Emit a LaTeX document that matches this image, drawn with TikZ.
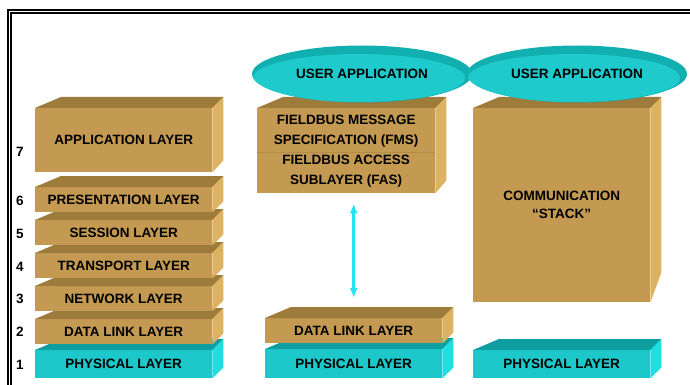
\documentclass[tikz,border=0pt]{standalone}
\usepackage{fontspec}
\setmainfont{Liberation Sans}
\usetikzlibrary{arrows.meta,positioning,calc,shapes.geometric}
\definecolor{TanFront}{HTML}{C49A52}
\definecolor{TanTop}{HTML}{9C7B3B}
\definecolor{TanSide}{HTML}{DDB263}
\definecolor{CyanFront}{HTML}{1CC8CA}
\definecolor{CyanTop}{HTML}{0F9EA0}
\definecolor{CyanSide}{HTML}{22DDDF}
\definecolor{DiscRim}{HTML}{12AFB1}
\definecolor{DiscFace}{HTML}{1FCACC}
\definecolor{ArrowCyan}{HTML}{22E4EC}
\tikzset{
  layer/.style={rectangle,fill=TanFront,anchor=north west,inner sep=0pt,align=center,
                font=\fontsize{13.5}{20}\selectfont\bfseries,
                minimum width=177pt,minimum height=25pt},
  phys/.style={layer,fill=CyanFront,minimum height=28pt},
  disc/.style={ellipse,fill=DiscRim,inner sep=0pt,minimum width=220pt,minimum height=57pt,
               font=\fontsize{13.5}{15}\selectfont\bfseries,
               path picture={\fill[DiscFace] ([shift={(-3pt,-4pt)}]path picture bounding box.center)
                             ellipse (106pt and 24pt);}},
  numlabel/.style={font=\fontsize{13.5}{15}\selectfont\bfseries},
  updown/.style={{Latex[length=10pt,width=8pt]}-{Latex[length=10pt,width=8pt]},
                 line width=2.6pt,draw=ArrowCyan}
}
% top and right faces of a block: node, top colour, side colour, drop of the back edge
\newcommand{\boxfaces}[4]{%
  \fill[#2] (#1.north west) -- ++(26,-11) -- ($(#1.north east)+(11,-11)$) -- (#1.north east) -- cycle;
  \fill[#3] (#1.north east) -- ++(11,-11) -- ($(#1.south east)+(11,-#4)$) -- (#1.south east) -- cycle;
}

\begin{document}
\begin{tikzpicture}[x=1pt,y=-1pt]
  \useasboundingbox (0,0) rectangle (690,385);
  \draw[line width=1.2pt,double distance=1.8pt] (9.5,386) |- (691,11.5);

  % OSI stack, drawn from the bottom up
  \node[phys] (osi1) at (35,350) {PHYSICAL LAYER};
  \boxfaces{osi1}{CyanTop}{CyanSide}{11}
  \foreach \nm/\ytop/\txt in {2/319/DATA LINK LAYER,3/286/NETWORK LAYER,
      4/253/TRANSPORT LAYER,5/220/SESSION LAYER,6/187/PRESENTATION LAYER}{
    \node[layer] (osi\nm) at (35,\ytop) {\txt};
    \boxfaces{osi\nm}{TanTop}{TanSide}{11}
  }
  \node[layer,minimum height=64pt] (osi7) at (35,108) {APPLICATION LAYER};
  \boxfaces{osi7}{TanTop}{TanSide}{12}
  \foreach \nm/\y in {1/365,2/332,3/299,4/267,5/234,6/201,7/152}
    \node[numlabel] (num\nm) at (20,\y) {\nm};

  % fieldbus stack
  \node[phys,minimum height=29pt] (fbphy) at (265,349) {PHYSICAL LAYER};
  \boxfaces{fbphy}{CyanTop}{CyanSide}{11}
  \node[layer] (fbdl) at (265,318) {DATA LINK LAYER};
  \boxfaces{fbdl}{TanTop}{TanSide}{11}
  \node[layer,minimum width=178pt,minimum height=85pt] (fmsfas) at (257,108)
    {FIELDBUS MESSAGE\\SPECIFICATION (FMS)\\FIELDBUS ACCESS\\SUBLAYER (FAS)};
  \boxfaces{fmsfas}{TanTop}{TanSide}{13}
  \draw[TanTop!45!TanFront,line width=0.6pt] ($(fmsfas.west)+(0,1.5)$) -- ($(fmsfas.east)+(0,1.5)$);
  \draw[updown,shorten <=10pt,shorten >=20pt] (fmsfas.south -| fbdl.north) -- (fbdl.north);

  % generic device
  \node[phys] (devphy) at (473,350) {PHYSICAL LAYER};
  \boxfaces{devphy}{CyanTop}{CyanSide}{11}
  \node[layer,minimum height=194pt] (comm) at (473,108) {COMMUNICATION\\[-2pt]“STACK”};
  \boxfaces{comm}{TanTop}{TanSide}{30}

  % user applications on top
  \node[disc] (fbuser) at (362,74) {USER APPLICATION};
  \node[disc] (devuser) at (577,74) {USER APPLICATION};
\end{tikzpicture}
\end{document}
